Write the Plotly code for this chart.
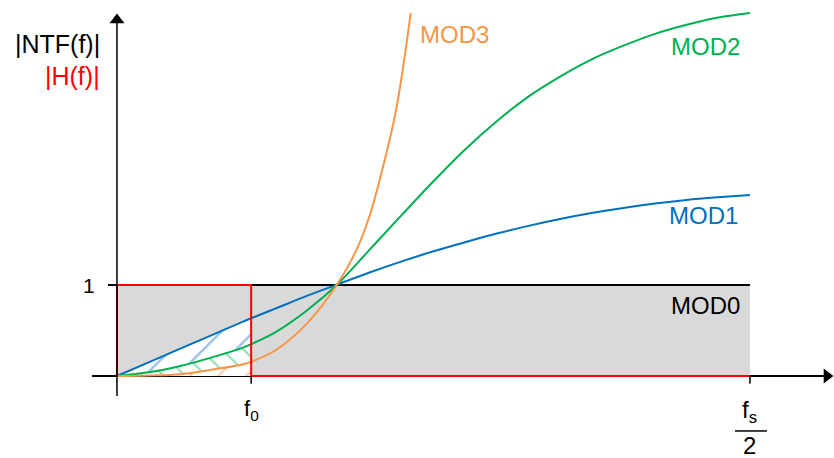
import plotly.graph_objects as go

# Frequency axis in units of fs (0 .. fs/2); magnitudes are linear |NTF|.
F0 = 0.106
FS_HALF = 0.5

mod1_f = [0, 0.025, 0.05, 0.075, 0.1, 0.106, 0.125, 0.15, 0.175, 0.2, 0.225, 0.25, 0.275,
          0.3, 0.325, 0.35, 0.375, 0.4, 0.425, 0.45, 0.475, 0.5]
mod1_v = [0, 0.15, 0.30, 0.45, 0.60, 0.635, 0.74, 0.88, 1.01, 1.14, 1.26, 1.37, 1.47,
          1.565, 1.65, 1.725, 1.79, 1.845, 1.895, 1.935, 1.965, 1.99]

mod2_f = [0, 0.025, 0.05, 0.075, 0.1, 0.106, 0.125, 0.15, 0.175, 0.2, 0.225, 0.25, 0.275,
          0.3, 0.325, 0.35, 0.375, 0.4, 0.425, 0.45, 0.475, 0.5]
mod2_v = [0, 0.04, 0.11, 0.205, 0.315, 0.35, 0.48, 0.72, 1.02, 1.395, 1.77, 2.14, 2.49,
          2.80, 3.07, 3.29, 3.48, 3.63, 3.76, 3.86, 3.94, 3.99]

mod3_f = [0, 0.025, 0.05, 0.075, 0.1, 0.106, 0.125, 0.15, 0.175, 0.19, 0.2, 0.21, 0.22,
          0.228, 0.232]
mod3_v = [0, 0.006, 0.02, 0.07, 0.13, 0.157, 0.28, 0.575, 1.03, 1.41, 1.78, 2.29, 2.89,
          3.58, 3.99]

mod0_level = 1.0
labels = ["MOD0", "MOD1", "MOD2", "MOD3"]

BLUE = "#0070c0"
GREEN = "#00b050"
ORANGE = "#f79646"
RED = "#ff0000"
GRAY = "#d9d9d9"
FONT = "Liberation Sans, Arial, sans-serif"


def in_band(fs, vs):
    pts = [(f, v) for f, v in zip(fs, vs) if f <= F0 + 1e-9]
    return [p[0] for p in pts], [p[1] for p in pts]


fig = go.Figure()

# Hatched in-band noise areas (below MOD3, MOD3..MOD2, MOD2..MOD1)
b3x, b3y = in_band(mod3_f, mod3_v)
b2x, b2y = in_band(mod2_f, mod2_v)
b1x, b1y = in_band(mod1_f, mod1_v)
fig.add_trace(go.Scatter(x=b3x, y=b3y, mode="lines", line=dict(width=0, shape="spline"),
                         fill="tozeroy", fillcolor="white",
                         fillpattern=dict(shape="/", fgcolor="#f7a060", bgcolor="white",
                                          size=20, solidity=0.12),
                         hoverinfo="skip", showlegend=False))
fig.add_trace(go.Scatter(x=b2x, y=b2y, mode="lines", line=dict(width=0, shape="spline"),
                         fill="tonexty", fillcolor="white",
                         fillpattern=dict(shape="\\", fgcolor="#2fb565", bgcolor="white",
                                          size=15, solidity=0.14),
                         hoverinfo="skip", showlegend=False))
fig.add_trace(go.Scatter(x=b1x, y=b1y, mode="lines", line=dict(width=0, shape="spline"),
                         fill="tonexty", fillcolor="white",
                         fillpattern=dict(shape="/", fgcolor="#3a86cc", bgcolor="white",
                                          size=23, solidity=0.11),
                         hoverinfo="skip", showlegend=False))

# MOD0 level line
fig.add_trace(go.Scatter(x=[0, FS_HALF], y=[mod0_level, mod0_level], mode="lines",
                         line=dict(color="black", width=2), hoverinfo="skip", showlegend=False))

# NTF curves
for fx, fv, col in [(mod1_f, mod1_v, BLUE), (mod2_f, mod2_v, GREEN), (mod3_f, mod3_v, ORANGE)]:
    fig.add_trace(go.Scatter(x=fx, y=fv, mode="lines",
                             line=dict(color=col, width=2, shape="spline", smoothing=1.0),
                             hoverinfo="skip", showlegend=False))

# Ideal band-pass |H(f)|
h_x = [0, 0, F0, F0, FS_HALF]
h_y = [0, 1, 1, 0, 0]
fig.add_trace(go.Scatter(x=h_x, y=h_y, mode="lines", line=dict(color=RED, width=2),
                         hoverinfo="skip", showlegend=False))

# Axis arrowheads
X_END, Y_END = 0.5608, 3.912
fig.add_trace(go.Scatter(x=[X_END], y=[0], mode="markers",
                         marker=dict(symbol="triangle-right", size=13, color="black"),
                         hoverinfo="skip", showlegend=False))
fig.add_trace(go.Scatter(x=[0], y=[Y_END], mode="markers",
                         marker=dict(symbol="triangle-up", size=13, color="black"),
                         hoverinfo="skip", showlegend=False))

X0, X1 = -0.0924, 0.5664
Y0, Y1 = -0.9011, 4.1319

shapes = [
    # grey region below |NTF| = 1
    dict(type="rect", x0=0, x1=FS_HALF, y0=0, y1=mod0_level, fillcolor=GRAY,
         line=dict(width=0), layer="below"),
    # frequency axis
    dict(type="line", x0=-0.0197, x1=X_END, y0=0, y1=0, line=dict(color="black", width=2),
         layer="below"),
    # magnitude axis
    dict(type="line", x0=0, x1=0, y0=-0.22, y1=Y_END, line=dict(color="black", width=1.5),
         layer="above"),
    # ticks
    dict(type="line", x0=-0.007, x1=0, y0=1, y1=1, line=dict(color="black", width=2)),
    dict(type="line", x0=F0, x1=F0, y0=0, y1=-0.085, line=dict(color="black", width=1.5)),
    dict(type="line", x0=FS_HALF, x1=FS_HALF, y0=0, y1=-0.085, line=dict(color="black", width=1.5)),
    # fraction bar of fs/2
    dict(type="line", x0=0.4882, x1=0.5134, y0=-0.604, y1=-0.604, line=dict(color="black", width=1.5)),
]

ann = [
    dict(x=0.267, y=3.758, text=labels[3], font=dict(color=ORANGE, size=24, family=FONT)),
    dict(x=0.4652, y=3.626, text=labels[2], font=dict(color=GREEN, size=24, family=FONT)),
    dict(x=0.4637, y=1.769, text=labels[1], font=dict(color=BLUE, size=24, family=FONT)),
    dict(x=0.4645, y=0.78, text=labels[0], font=dict(color="black", size=24, family=FONT)),
    dict(x=-0.0158, y=1, text="1", xanchor="right", font=dict(color="black", size=21, family=FONT)),
    dict(x=-0.0118, y=3.648, text="|NTF(f)|", xanchor="right",
         font=dict(color="black", size=25, family=FONT)),
    dict(x=-0.0118, y=3.297, text="|H(f)|", xanchor="right",
         font=dict(color=RED, size=25, family=FONT)),
    dict(x=F0, y=-0.374, text="f<sub>0</sub>", font=dict(color="black", size=22, family=FONT)),
    dict(x=FS_HALF, y=-0.385, text="f<sub>s</sub>", font=dict(color="black", size=24, family=FONT)),
    dict(x=FS_HALF, y=-0.769, text="2", font=dict(color="black", size=24, family=FONT)),
]
for a in ann:
    a.update(showarrow=False, xref="x", yref="y")

fig.update_layout(
    width=834, height=458,
    margin=dict(l=0, r=0, t=0, b=0, autoexpand=False),
    paper_bgcolor="white", plot_bgcolor="white",
    xaxis=dict(range=[X0, X1], visible=False, fixedrange=True),
    yaxis=dict(range=[Y0, Y1], visible=False, fixedrange=True),
    shapes=shapes, annotations=ann, showlegend=False,
)

fig.write_html("out.html")
